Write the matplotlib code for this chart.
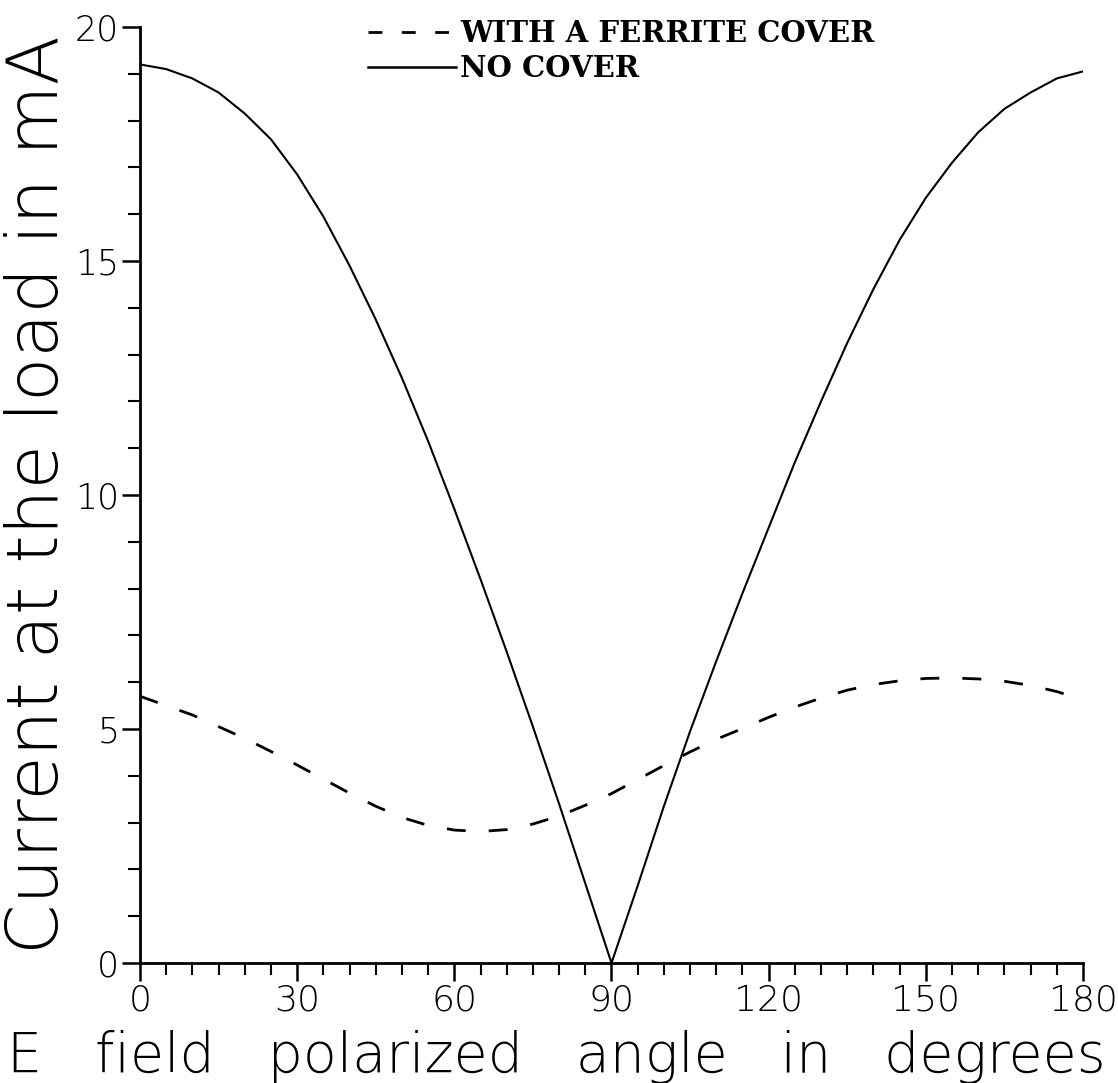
import matplotlib
matplotlib.use("Agg")
import matplotlib.pyplot as plt
from matplotlib.ticker import MultipleLocator
from matplotlib.lines import Line2D

# Data
angle_nocover = [0, 5, 10, 15, 20, 25, 30, 35, 40, 45, 50, 55, 60, 65, 70, 75, 80, 85,
                 90, 95, 100, 105, 110, 115, 120, 125, 130, 135, 140, 145, 150, 155,
                 160, 165, 170, 175, 180]
current_nocover = [19.2, 19.1, 18.9, 18.6, 18.15, 17.6, 16.85, 15.95, 14.9, 13.75, 12.5,
                   11.15, 9.7, 8.2, 6.65, 5.05, 3.4, 1.7, 0.0, 1.65, 3.35, 4.95, 6.45,
                   7.9, 9.3, 10.7, 12.0, 13.25, 14.4, 15.45, 16.35, 17.1, 17.75,
                   18.25, 18.6, 18.9, 19.05]

angle_ferrite = [0, 5, 10, 15, 20, 25, 30, 35, 40, 45, 50, 55, 60, 65, 70, 75, 80, 85,
                 90, 95, 100, 105, 110, 115, 120, 125, 130, 135, 140, 145, 150, 155,
                 160, 165, 170, 175, 180]
current_ferrite = [5.7, 5.5, 5.3, 5.05, 4.8, 4.52, 4.23, 3.93, 3.63, 3.35, 3.11, 2.94,
                   2.84, 2.81, 2.85, 2.97, 3.14, 3.37, 3.62, 3.92, 4.22, 4.51, 4.78,
                   5.01, 5.25, 5.47, 5.66, 5.83, 5.95, 6.03, 6.08, 6.09, 6.07, 6.02,
                   5.93, 5.80, 5.62]

x_ticks = [0, 30, 60, 90, 120, 150, 180]
y_ticks = [0, 5, 10, 15, 20]
xlabel = "E   field   polarized   angle   in   degrees"
ylabel = "Current at the load in mA"
legend_labels = ["WITH A FERRITE COVER", "NO COVER"]

thin = dict(family="DejaVu Sans", weight="light")

fig = plt.figure(figsize=(11.18, 10.83), dpi=100)
ax = fig.add_axes([0.1252, 0.1108, 0.8435, 0.8643])

ax.plot(angle_ferrite, current_ferrite, color="black", lw=2.0,
        linestyle=(0, (6.8, 8.3)))
ax.plot(angle_nocover, current_nocover, color="black", lw=1.5)

ax.set_xlim(0, 180)
ax.set_ylim(0, 20)
ax.xaxis.set_minor_locator(MultipleLocator(5))
ax.yaxis.set_minor_locator(MultipleLocator(1))
ax.set_xticks(x_ticks)
ax.set_yticks(y_ticks)
ax.set_xticklabels([str(v) for v in x_ticks], fontsize=26, **thin)
ax.set_yticklabels([str(v) for v in y_ticks], fontsize=25, **thin)

for s in ["top", "right"]:
    ax.spines[s].set_visible(False)
for s in ["left", "bottom"]:
    ax.spines[s].set_linewidth(2)

ax.tick_params(which="major", direction="out", length=13, width=1.8, pad=2)
ax.tick_params(which="minor", direction="out", length=8.5, width=1.5)

ax.set_xlabel(xlabel, fontsize=40, **thin)
ax.xaxis.set_label_coords(0.442, -0.071)
ax.set_ylabel(ylabel, fontsize=52, **thin)
ax.yaxis.set_label_coords(-0.0715, 0.5)

h1 = Line2D([], [], color="black", lw=2.0, linestyle=(0, (5, 7)))
h2 = Line2D([], [], color="black", lw=1.8)
ax.legend([h1, h2], legend_labels, loc="upper left",
          bbox_to_anchor=(0.214, 1.0365), frameon=False,
          prop=dict(family="DejaVu Serif", weight="bold", size=21),
          handlelength=3.0, handletextpad=0.15, labelspacing=0.2)

fig.savefig("out.png", dpi=100)
